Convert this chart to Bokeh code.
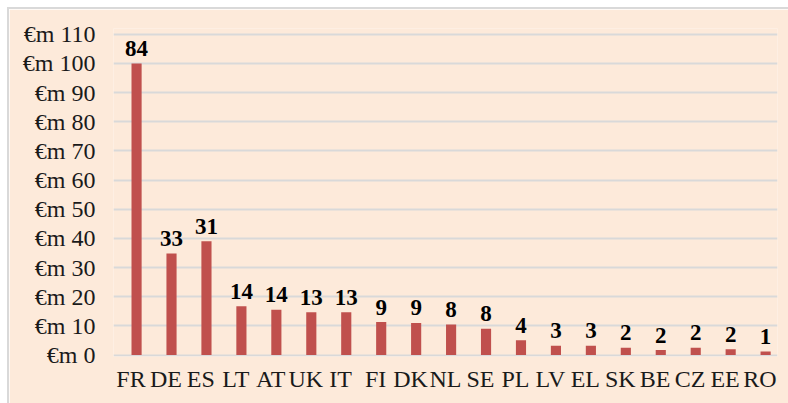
from bokeh.plotting import figure
from bokeh.models import ColumnDataSource, FactorRange, Range1d, FixedTicker
from bokeh.transform import dodge
from bokeh.core.properties import value
from bokeh.embed import file_html
from bokeh.resources import INLINE

countries = ["FR", "DE", "ES", "LT", "AT", "UK", "IT", "FI", "DK", "NL",
             "SE", "PL", "LV", "EL", "SK", "BE", "CZ", "EE", "RO"]
amounts_meur = [100.0, 34.8, 39.0, 16.7, 15.5, 14.7, 14.7, 11.3, 11.0, 10.5,
                9.0, 5.1, 3.2, 3.2, 2.5, 1.7, 2.5, 2.0, 1.2]
counts = [84, 33, 31, 14, 14, 13, 13, 9, 9, 8, 8, 4, 3, 3, 2, 2, 2, 2, 1]
y_ticks = [0, 10, 20, 30, 40, 50, 60, 70, 80, 90, 100, 110]
y_tick_labels = ["€m " + str(t) for t in y_ticks]

BG = "#FDEADA"
FONT = "Liberation Serif"

src = ColumnDataSource(dict(
    country=countries,
    amount=amounts_meur,
    label=[str(c) for c in counts],
))

p = figure(
    x_range=FactorRange(*countries, range_padding=0),
    y_range=Range1d(-0.5, 112),
    frame_width=664, frame_height=328,
    output_backend="svg", toolbar_location=None,
    min_border_left=104, min_border_right=11,
    min_border_top=19, min_border_bottom=47,
)
p.styles = {"margin-left": "7px", "margin-top": "7px",
            "box-sizing": "content-box",
            "border-left": "2px solid #D9D9D9", "border-top": "2px solid #D9D9D9",
            "border-right": "none", "border-bottom": "none"}
p.background_fill_color = BG
p.border_fill_color = BG
p.outline_line_color = None

p.vbar(x=dodge("country", 0.16, range=p.x_range), top="amount", bottom=0,
       width=0.29, source=src, fill_color="#C0504D", line_color=None)

p.text(x=dodge("country", 0.16, range=p.x_range), y="amount", text="label",
       source=src, text_align="center", text_baseline="alphabetic",
       y_offset=-15, text_font=value(FONT), text_font_style="bold",
       text_font_size="23px", text_color="#000000")

p.xgrid.grid_line_color = None
p.ygrid.grid_line_color = "#D9D9D9"
p.ygrid.grid_line_width = 2
p.ygrid.ticker = FixedTicker(ticks=y_ticks)

p.yaxis.ticker = FixedTicker(ticks=y_ticks)
p.yaxis.major_label_overrides = {t: l for t, l in zip(y_ticks, y_tick_labels)}
for ax in (p.xaxis, p.yaxis):
    ax.axis_line_color = None
    ax.major_tick_line_color = None
    ax.minor_tick_line_color = None
    ax.major_tick_out = 0
    ax.major_tick_in = 0
    ax.major_label_text_font = FONT
    ax.major_label_text_font_size = "24px"
    ax.major_label_text_color = "#1A1A1A"
p.yaxis.major_label_standoff = 18
p.xaxis.major_label_standoff = 9

open("out.html", "w").write(file_html(p, INLINE))
